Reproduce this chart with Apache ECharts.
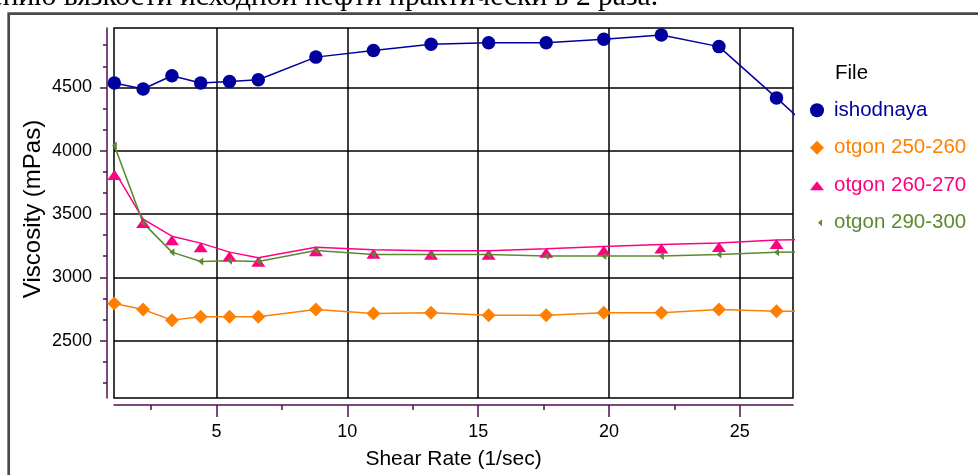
<!DOCTYPE html>
<html>
<head>
<meta charset="utf-8">
<script src="https://cdn.jsdelivr.net/npm/echarts@6/dist/echarts.min.js"></script>
<style>
html,body{margin:0;padding:0;background:#fff;}
#chart{width:978px;height:475px;}
</style>
</head>
<body>
<div id="chart"></div>
<script>
// ---- data ----
const shearRate = [1.1, 2.2, 3.3, 4.4, 5.5, 6.6, 8.8, 11, 13.2, 15.4, 17.6, 19.8, 22, 24.2, 26.4, 28.6];
const ishodnaya = [4534, 4487, 4592, 4534, 4547, 4560, 4739, 4791, 4841, 4853, 4853, 4880, 4914, 4822, 4417, 4000];
const otgon250  = [2793, 2746, 2662, 2689, 2689, 2689, 2746, 2714, 2720, 2701, 2701, 2720, 2720, 2746, 2733, 2733];
const otgon260  = [3840, 3460, 3325, 3270, 3199, 3154, 3238, 3217, 3209, 3209, 3225, 3243, 3259, 3272, 3294, 3305];
const otgon290  = [4042, 3430, 3199, 3125, 3131, 3125, 3212, 3180, 3180, 3180, 3168, 3168, 3168, 3180, 3199, 3200];
const seriesNames = ['ishodnaya', 'otgon 250-260', 'otgon 260-270', 'otgon 290-300'];
const xTickLabels = [5, 10, 15, 20, 25];
const xMinorTicks = [2.5, 7.5, 12.5, 17.5, 22.5];
const yTickLabels = [2500, 3000, 3500, 4000, 4500];
const yMinorTicks = [2166.7, 2333.3, 2666.7, 2833.3, 3166.7, 3333.3, 3666.7, 3833.3, 4166.7, 4333.3, 4666.7, 4833.3];
const legendTitle = 'File';
const xTitle = 'Shear Rate (1/sec)';
const yTitle = 'Viscosity (mPas)';
const topText = 'снижению вязкости исходной нефти практически в 2 раза.';

// ---- styles ----
const colors = ['#00009C', '#FF8000', '#FF0080', '#5A8A30'];
const axisColor = '#4B0F4B';
const FONT = '"Liberation Sans", Arial, sans-serif';
const X_MIN = 1.087, X_MAX = 27.03, Y_MIN = 2047, Y_MAX = 4969;

const pairs = vals => shearRate.map((x, i) => [x, vals[i]]);
// legend icons (24x14 box)
const icCircle = 'path://M0,0 M24,14 M5,7 A7,7 0 1,1 19,7 A7,7 0 1,1 5,7 Z';
const icDiamond = 'path://M0,0 M24,14 M4.5,7 L12,-0.5 L19.5,7 L12,14.5 Z';
const icTri = 'path://M0,0 M24,14 M5,12 L12,3 L19,12 Z';
const icSmall = 'path://M0,0 M24,14 M13,7 L17,3.5 L17,10.5 Z';

const chart = echarts.init(document.getElementById('chart'), null, {renderer: 'canvas'});

const commonX = {type: 'value', min: X_MIN, max: X_MAX, gridIndex: 0, position: 'bottom', offset: 7};
const commonY = {type: 'value', min: Y_MIN, max: Y_MAX, gridIndex: 0, position: 'left', offset: 7};
const plain = v => String(Math.round(v));

chart.setOption({
  animation: false,
  backgroundColor: '#fff',
  grid: {left: 114, right: 185, top: 28, bottom: 75, show: true, borderColor: '#000', borderWidth: 1.5, containLabel: false},
  xAxis: [
    Object.assign({}, commonX, {
      axisLine: {show: true, onZero: false, lineStyle: {color: axisColor, width: 1.5}},
      axisTick: {show: true, customValues: xTickLabels, length: 12, lineStyle: {color: axisColor, width: 1.5}},
      axisLabel: {show: true, customValues: xTickLabels, formatter: plain, color: '#000', fontSize: 18, fontFamily: FONT, margin: 18},
      splitLine: {show: true, lineStyle: {color: '#000', width: 1.5}},
      name: xTitle, nameLocation: 'middle', nameGap: 44,
      nameTextStyle: {color: '#000', fontSize: 21, fontFamily: FONT}
    }),
    Object.assign({}, commonX, {
      axisLine: {show: false},
      axisTick: {show: true, customValues: xMinorTicks, length: 5, lineStyle: {color: axisColor, width: 1.5}},
      axisLabel: {show: false},
      splitLine: {show: false}
    })
  ],
  yAxis: [
    Object.assign({}, commonY, {
      axisLine: {show: true, onZero: false, lineStyle: {color: axisColor, width: 1.5}},
      axisTick: {show: true, customValues: yTickLabels, length: 7, lineStyle: {color: axisColor, width: 1.5}},
      axisLabel: {show: true, customValues: yTickLabels, formatter: plain, color: '#000', fontSize: 18, fontFamily: FONT, margin: 15},
      splitLine: {show: true, lineStyle: {color: '#000', width: 1.5}},
      name: yTitle, nameLocation: 'middle', nameGap: 62, nameMoveOverlap: false,
      nameTextStyle: {color: '#000', fontSize: 24, fontFamily: FONT, padding: [0, 0, 0, 8]}
    }),
    Object.assign({}, commonY, {
      axisLine: {show: false},
      axisTick: {show: true, customValues: yMinorTicks, length: 4, lineStyle: {color: axisColor, width: 1.5}},
      axisLabel: {show: false},
      splitLine: {show: false}
    })
  ],
  legend: {
    orient: 'vertical', left: 800, top: 94.75, itemWidth: 24, itemHeight: 14, itemGap: 16.5,
    padding: 5, selectedMode: false,
    textStyle: {fontSize: 20.5, fontFamily: FONT},
    data: [
      {name: seriesNames[0], icon: icCircle, textStyle: {color: colors[0]}},
      {name: seriesNames[1], icon: icDiamond, textStyle: {color: colors[1]}},
      {name: seriesNames[2], icon: icTri, textStyle: {color: colors[2]}},
      {name: seriesNames[3], icon: icSmall, textStyle: {color: colors[3]}}
    ]
  },
  graphic: [
    {type: 'rect', silent: true, shape: {x: 8.7, y: 13.7, width: 1100, height: 600},
     style: {fill: 'none', stroke: '#4a4a4a', lineWidth: 2.7}, z: 100},
    {type: 'text', silent: true, x: 658, y: 12,
     style: {text: topText, align: 'right', verticalAlign: 'bottom', font: '29.5px "Liberation Serif", "Times New Roman", serif', fill: '#000'}},
    {type: 'text', silent: true, x: 835, y: 73,
     style: {text: legendTitle, align: 'left', verticalAlign: 'middle', font: '20.5px ' + FONT, fill: '#000'}}
  ],
  series: [
    {name: seriesNames[0], type: 'line', data: pairs(ishodnaya), symbol: 'circle', symbolSize: 13.5,
     color: colors[0], lineStyle: {width: 1.5}, showAllSymbol: true},
    {name: seriesNames[1], type: 'line', data: pairs(otgon250), symbol: 'diamond', symbolSize: 14,
     color: colors[1], lineStyle: {width: 1.5}, showAllSymbol: true},
    {name: seriesNames[2], type: 'line', data: pairs(otgon260), symbol: 'triangle', symbolSize: [14, 10], symbolOffset: [0, 4],
     color: colors[2], lineStyle: {width: 1.5}, showAllSymbol: true},
    {name: seriesNames[3], type: 'line', data: pairs(otgon290), symbol: 'path://M0,4 L5,0 L5,8 Z', symbolSize: [5, 8],
     color: colors[3], lineStyle: {width: 1.5}, showAllSymbol: true}
  ]
});
</script>
</body>
</html>
